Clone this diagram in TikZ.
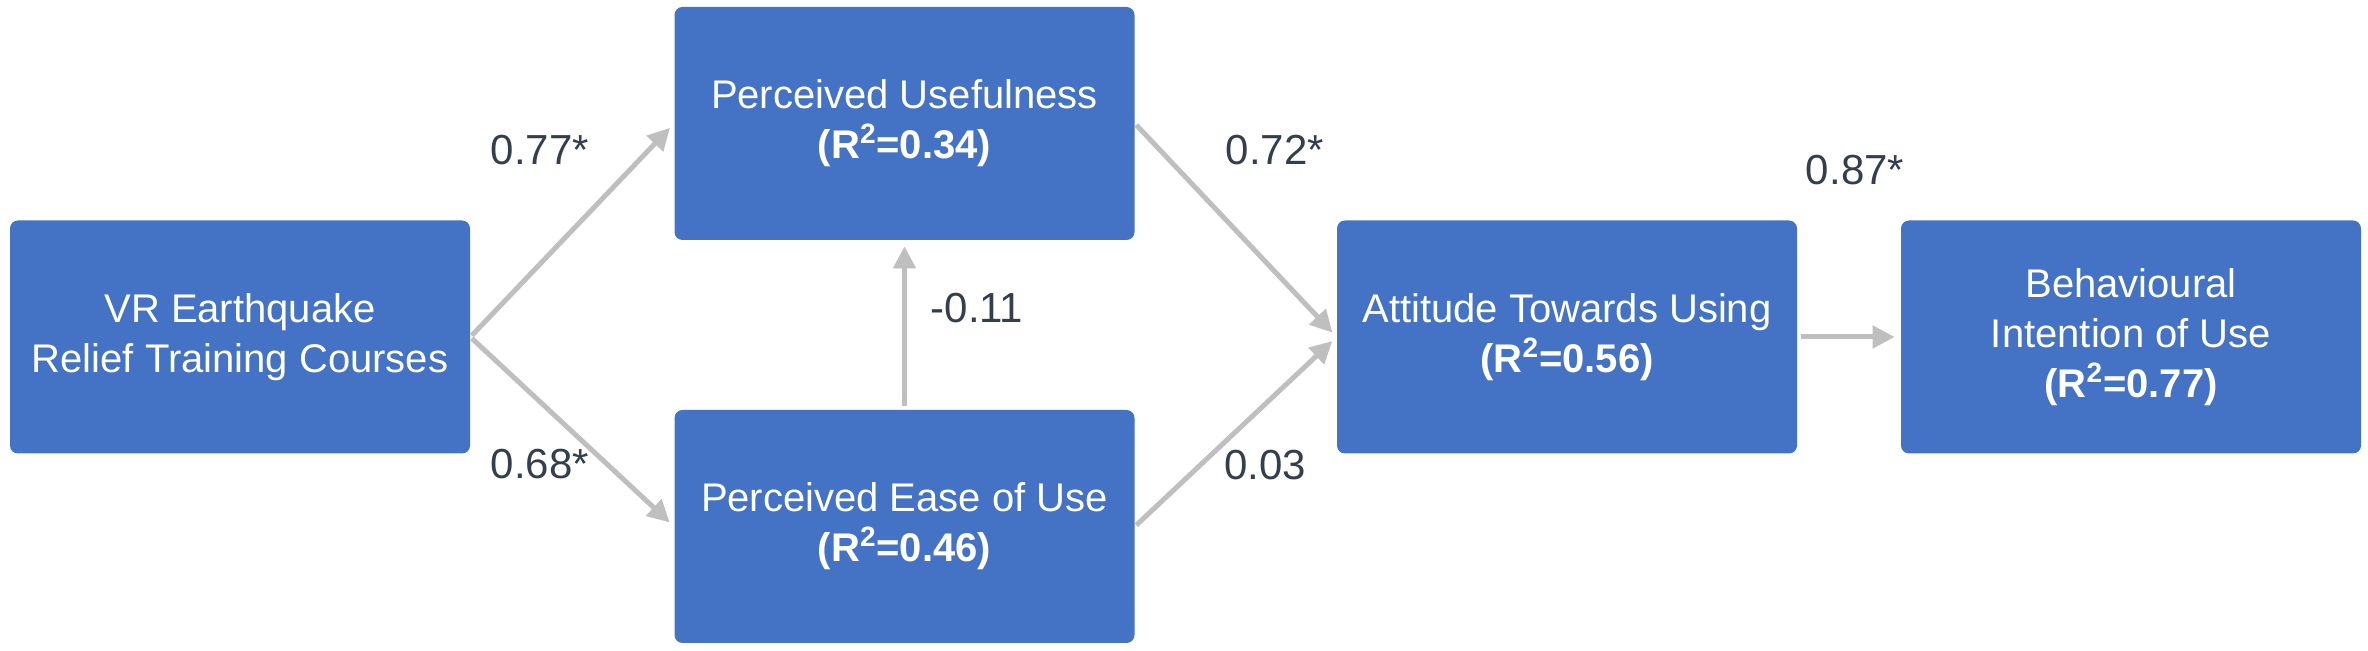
\documentclass[tikz,border=0pt]{standalone}
\usepackage{fontspec}
\setmainfont{Liberation Sans}
\usetikzlibrary{arrows.meta}
\definecolor{boxblue}{HTML}{4472C4}
\definecolor{arrgray}{HTML}{BFBFBF}
\definecolor{labcol}{HTML}{333F4F}
\begin{document}
\begin{tikzpicture}[x=0.5pt,y=-0.5pt,
  box/.style={draw=none, fill=boxblue, rounded corners=4pt, minimum width=230pt, minimum height=116.5pt,
    inner sep=0pt, text=white, align=center, font=\fontsize{20pt}{25pt}\selectfont},
  conn/.style={draw=arrgray, line width=2.5pt, -{Triangle[length=11pt,width=11pt]}, shorten >=3pt},
  lab/.style={text=labcol, font=\fontsize{21pt}{25pt}\selectfont, inner sep=0pt}]
\useasboundingbox[fill=white] (0,0) rectangle (2368,651);
\node[box] (vr) at (240,337) {VR Earthquake\\Relief Training Courses};
\node[box] (pu) at (904.5,123.5) {Perceived Usefulness\\\textbf{(R\textsuperscript{2}=0.34)}};
\node[box] (peu) at (904.5,526.5) {Perceived Ease of Use\\\textbf{(R\textsuperscript{2}=0.46)}};
\node[box] (atu) at (1567,337) {Attitude Towards Using\\\textbf{(R\textsuperscript{2}=0.56)}};
\node[box] (biu) at (2131,337) {Behavioural\\Intention of Use\\\textbf{(R\textsuperscript{2}=0.77)}};
\draw[conn, shorten <=1pt] (vr.east) -- (pu.west);
\draw[conn, shorten <=1pt] (vr.east) -- (peu.west);
\draw[conn, shorten <=1pt] (pu.east) -- (atu.west);
\draw[conn, shorten <=1pt] (peu.east) -- (atu.west);
\draw[conn, shorten <=2pt] (peu.north) -- (pu.south);
\draw[conn, shorten <=2pt] (atu.east) -- (biu.west);
\node[lab] (l1) at (540,150) {0.77*};
\node[lab] (l2) at (540,464) {0.68*};
\node[lab] (l3) at (977,308) {-0.11};
\node[lab] (l4) at (1275,150) {0.72*};
\node[lab] (l5) at (1265,465) {0.03};
\node[lab] (l6) at (1855,170) {0.87*};
\end{tikzpicture}
\end{document}
